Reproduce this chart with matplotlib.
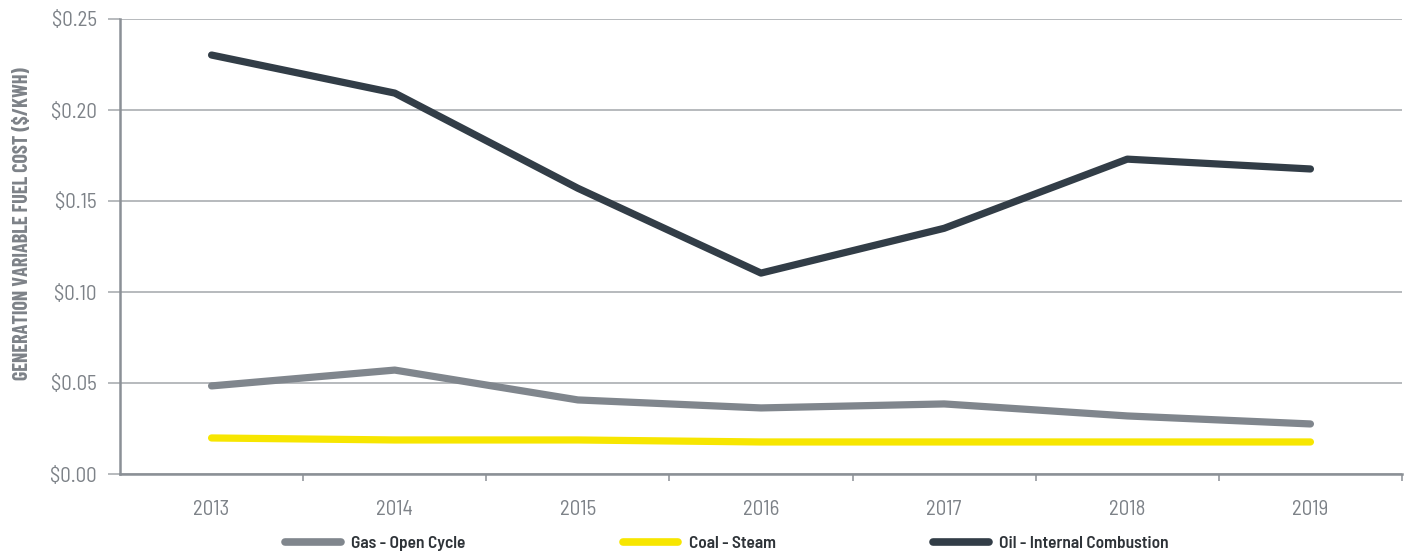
import matplotlib
matplotlib.use("Agg")
import matplotlib.pyplot as plt
from matplotlib.ticker import FuncFormatter

# Fuel cost per kWh by generation type
years = ["2013", "2014", "2015", "2016", "2017", "2018", "2019"]
gas_open_cycle = [0.0484, 0.0571, 0.0407, 0.0363, 0.0385, 0.0319, 0.0275]
coal_steam = [0.0198, 0.0187, 0.0187, 0.0176, 0.0176, 0.0176, 0.0176]
oil_internal = [0.2302, 0.2093, 0.1570, 0.1104, 0.1350, 0.1730, 0.1676]

series = [
    ("Gas - Open Cycle", gas_open_cycle, "#80868d"),
    ("Coal - Steam", coal_steam, "#f7e600"),
    ("Oil - Internal Combustion", oil_internal, "#323d47"),
]

plt.rcParams["font.family"] = ["Barlow Semi Condensed", "DejaVu Sans"]

grey = "#8b9096"
text_grey = "#7d8288"

fig = plt.figure(figsize=(14.05, 5.53), dpi=100)
ax = fig.add_axes([120 / 1405, 79 / 553, 1282 / 1405, 455 / 553])

x = range(len(years))
for label, vals, color in series:
    ax.plot(x, vals, color=color, lw=5.2, solid_capstyle="round",
            solid_joinstyle="round", label=label, zorder=3)

ax.set_xlim(-0.5, len(years) - 0.5)
ax.set_ylim(0, 0.25)
ax.set_yticks([0, 0.05, 0.10, 0.15, 0.20, 0.25])
ax.yaxis.set_major_formatter(FuncFormatter(lambda v, p: f"${v:.2f}"))
ax.grid(axis="y", color="#a3a7ab", lw=1.1, zorder=1)
ax.set_axisbelow(True)

# year labels in the middle of each band, ticks on band edges
ax.set_xticks(list(x))
ax.set_xticklabels(years)
ax.tick_params(axis="x", which="major", length=0, pad=19, labelsize=15, labelcolor=text_grey)
ax.set_xticks([i + 0.5 for i in range(len(years))], minor=True)
ax.tick_params(axis="x", which="minor", length=5, width=1.1, color=grey)
ax.tick_params(axis="y", length=8.6, width=1.1, color="#a3a7ab", pad=8,
               labelsize=15, labelcolor=text_grey)

for side in ("top", "right"):
    ax.spines[side].set_visible(False)
for side in ("left", "bottom"):
    ax.spines[side].set_color(grey)
    ax.spines[side].set_linewidth(1.8)

ax.set_ylabel("GENERATION VARIABLE FUEL COST ($/KWH)", fontsize=14.5, fontweight="bold",
              family=["Barlow Condensed", "DejaVu Sans"], color=text_grey)
ax.yaxis.set_label_coords(-0.0686, 0.55)

leg = fig.legend(loc="lower center", bbox_to_anchor=(727 / 1405, 0.003), ncol=3,
                 frameon=False, handlelength=3.2, columnspacing=9.05, handletextpad=0.6,
                 borderpad=0, borderaxespad=0, prop={"size": 12.5, "weight": 600})
for t in leg.get_texts():
    t.set_color("#2e3338")
for ln in leg.get_lines():
    ln.set_linewidth(5.5)

fig.savefig("out.png", dpi=100)
